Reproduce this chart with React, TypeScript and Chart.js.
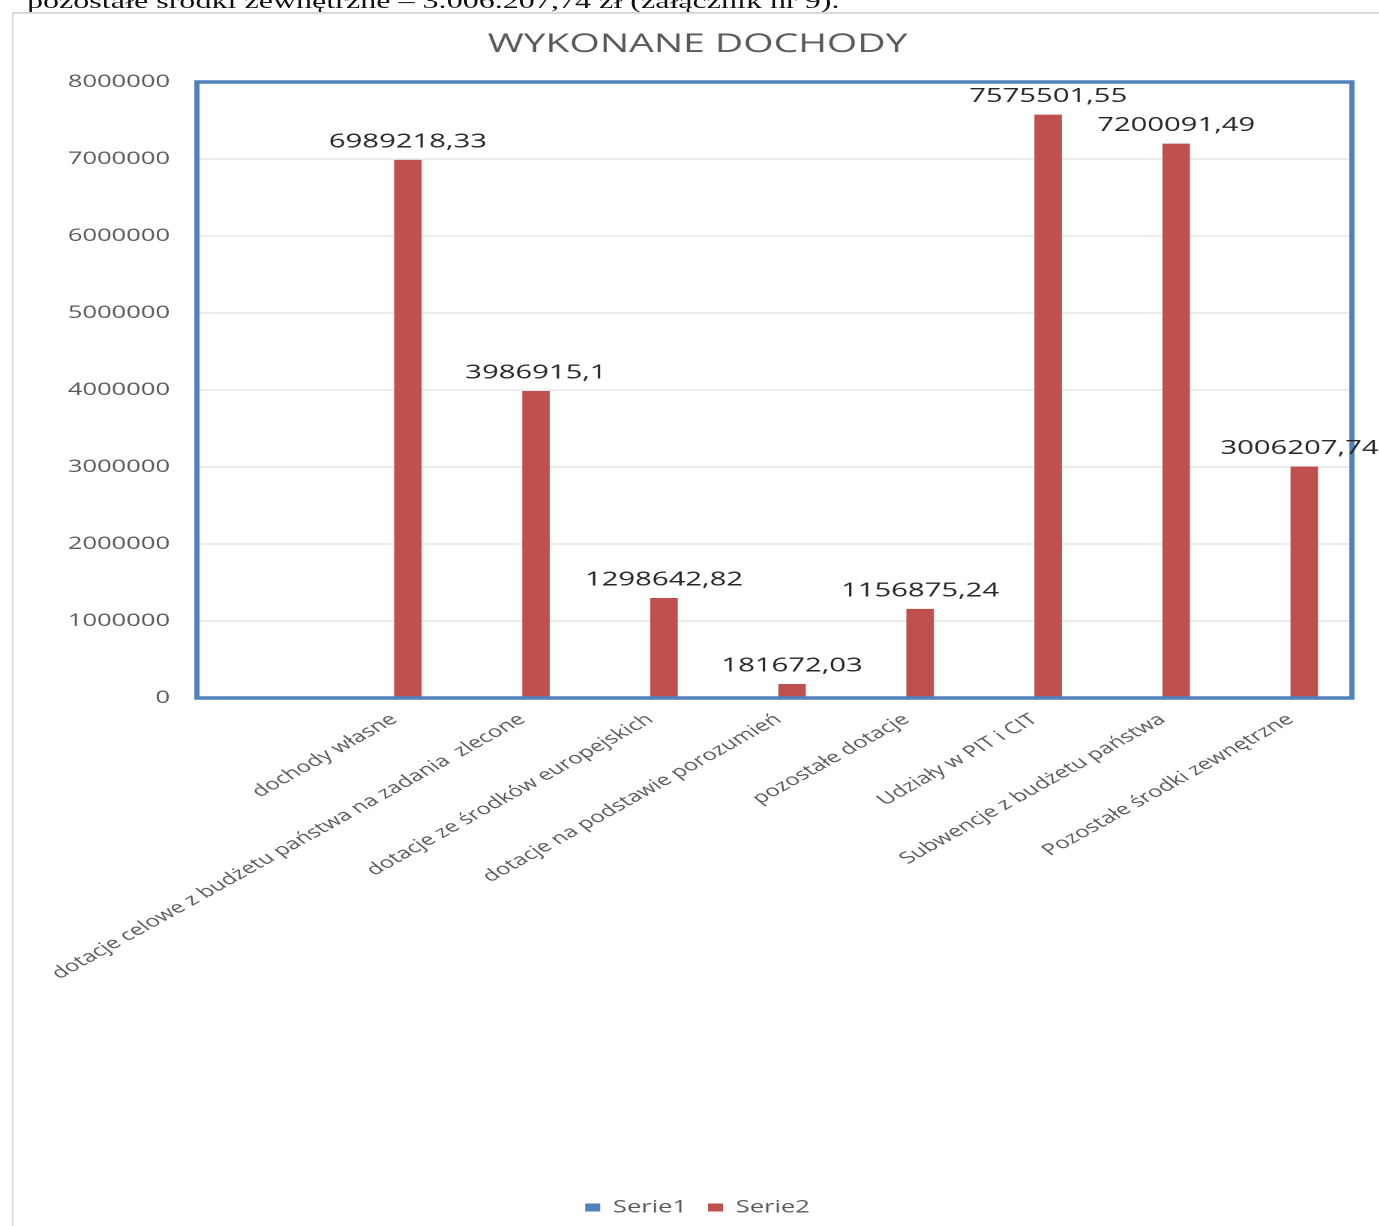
import React, { useEffect, useRef } from "react";
import { Chart, registerables } from "chart.js";

Chart.register(...registerables);

const titleText = "WYKONANE DOCHODY";
const seriesNames = ["Serie1", "Serie2"];
const categories = [
  "dochody własne",
  "dotacje celowe z budżetu państwa na zadania  zlecone",
  "dotacje ze środków europejskich",
  "dotacje na podstawie porozumień",
  "pozostałe dotacje",
  "Udziały w PIT i CIT",
  "Subwencje z budżetu państwa",
  "Pozostałe środki zewnętrzne",
];
const serie1 = [0, 0, 0, 0, 0, 0, 0, 0];
const serie2 = [
  6989218.33, 3986915.1, 1298642.82, 181672.03, 1156875.24, 7575501.55,
  7200091.49, 3006207.74,
];
const yMin = 0;
const yMax = 8000000;
const yStep = 1000000;
const topText =
  "pozostałe środki zewnętrzne – 3.006.207,74 zł (załącznik nr 9).";

const S = 1.5; // horizontal stretch of the whole picture
const FONT = "'Open Sans', 'DejaVu Sans', sans-serif";

const fmt = (v: number) => String(v).replace(".", ",");

const framePlugin = {
  id: "frameAndLabels",
  afterDatasetsDraw(chart: any) {
    const { ctx, chartArea: a } = chart;
    ctx.save();
    ctx.strokeStyle = "#4f81bd";
    ctx.lineWidth = 3.5;
    ctx.strokeRect(a.left, a.top, a.right - a.left, a.bottom - a.top);
    const meta = chart.getDatasetMeta(1);
    ctx.font = `19.5px ${FONT}`;
    ctx.fillStyle = "#262626";
    ctx.textAlign = "center";
    ctx.textBaseline = "middle";
    meta.data.forEach((bar: any, i: number) => {
      const t = fmt(serie2[i]);
      const w = ctx.measureText(t).width;
      const x = Math.min(bar.x, chart.width - 12 - w / 2);
      ctx.fillText(t, x, bar.y - 18);
    });
    ctx.restore();
  },
};

export default function App() {
  const ref = useRef<HTMLCanvasElement | null>(null);

  useEffect(() => {
    if (!ref.current) return;
    const chart = new Chart(ref.current, {
      type: "bar",
      data: {
        datasets: [
          {
            label: seriesNames[0],
            data: categories.map((_, i) => ({ x: i, y: serie1[i] })),
            backgroundColor: "#4f81bd",
            borderWidth: 0,
          },
          {
            label: seriesNames[1],
            data: categories.map((_, i) => ({ x: i, y: serie2[i] })),
            backgroundColor: "#c0504d",
            borderWidth: 0,
          },
        ],
      },
      options: {
        animation: false,
        responsive: true,
        maintainAspectRatio: false,
        devicePixelRatio: 2,
        layout: { padding: { left: 20.7, right: 29.7, top: 0, bottom: 0 } },
        datasets: {
          bar: { categoryPercentage: 0.43, barPercentage: 1 },
        },
        plugins: {
          tooltip: { enabled: false },
          title: {
            display: true,
            text: titleText,
            color: "#595959",
            font: { family: FONT, size: 26, weight: "normal", lineHeight: 1.2 },
            padding: { top: 29, bottom: 21.8 },
          },
          legend: {
            position: "bottom",
            labels: {
              boxWidth: 10,
              boxHeight: 8,
              padding: 14,
              color: "#595959",
              font: { family: FONT, size: 17 },
            },
          },
        },
        scales: {
          x: {
            type: "linear",
            min: -1.54,
            max: 7.48,
            bounds: "data",
            offset: false,
            grid: { display: false },
            border: { display: false },
            afterBuildTicks: (scale: any) => {
              scale.ticks = categories.map((_, i) => ({ value: i }));
            },
            afterFit: (scale: any) => {
              scale.height = 487;
            },
            ticks: {
              autoSkip: false,
              minRotation: 39.7,
              maxRotation: 39.7,
              padding: 4,
              color: "#595959",
              font: { family: FONT, size: 16 },
              callback: (value: any) => categories[value as number] ?? "",
            },
          },
          y: {
            min: yMin,
            max: yMax,
            grid: { color: "#d9d9d9", lineWidth: 1, drawTicks: false },
            border: { display: false },
            afterFit: (scale: any) => {
              scale.width = 102.6;
            },
            ticks: {
              stepSize: yStep,
              padding: 18,
              color: "#595959",
              font: { family: FONT, size: 17 },
              callback: (value: any) => String(value),
            },
          },
        },
      },
      plugins: [framePlugin],
    } as any);
    return () => chart.destroy();
  }, []);

  return (
    <div
      style={{
        position: "absolute",
        left: 0,
        top: 0,
        width: 1379,
        height: 1226,
        overflow: "hidden",
        background: "#fff",
      }}
    >
      <div
        style={{
          position: "absolute",
          left: 0,
          top: 0,
          width: 1400 / S,
          height: 1226,
          transform: `scaleX(${S})`,
          transformOrigin: "0 0",
        }}
      >
        <div
          style={{
            position: "absolute",
            left: 27 / S,
            top: -9.5,
            whiteSpace: "nowrap",
            fontFamily: "'Liberation Serif', 'Times New Roman', serif",
            fontSize: 21.4,
            lineHeight: "21px",
            color: "#111",
          }}
        >
          {topText}
        </div>
        <div
          style={{
            position: "absolute",
            left: 12 / S,
            top: 12,
            width: 1400,
            height: 1400,
            borderTop: "2px solid #d9d9d9",
            borderLeft: `${2 / S}px solid #d9d9d9`,
          }}
        />
        <div
          style={{
            position: "absolute",
            left: 8,
            top: 0,
            width: 923,
            height: 1226,
          }}
        >
          <canvas ref={ref} />
        </div>
      </div>
    </div>
  );
}
